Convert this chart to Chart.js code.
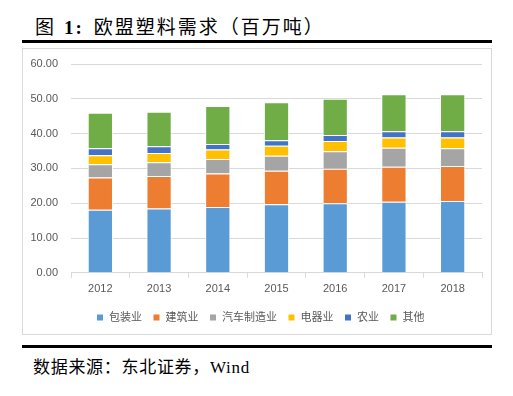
<!DOCTYPE html>
<html>
<head>
<meta charset="utf-8">
<script src="https://cdn.jsdelivr.net/npm/chart.js@4"></script>
<style>
    body { margin: 0; background: #fff; }
    #page { position: relative; width: 513px; height: 396px; background: #fff; overflow: hidden; }
    .cap { position: absolute; left: 35px; font-family: "Liberation Serif", "Noto Sans CJK SC", serif; color: #000; white-space: nowrap; }
    .rule { position: absolute; left: 22px; width: 470px; height: 3px; background: #000; }
    #box { position: absolute; left: 22px; top: 48px; width: 468px; height: 285px; border: 1px solid #d9d9d9; }
</style>
</head>
<body>
<div id="page">
    <div class="cap" style="top:12px; font-size:19px; letter-spacing:2px">图<b style="margin-left:8px">1:</b><span style="margin-left:10px">欧盟塑料需求（百万吨）</span></div>
    <div class="rule" style="top:40px"></div>
    <div id="box"><canvas id="demandChart" width="468" height="285"></canvas></div>
    <div class="rule" style="top:345px"></div>
    <div class="cap" style="top:353px; left:33px; font-size:17px; letter-spacing:0.7px">数据来源：东北证券，Wind</div>
</div>
<script>
// Data (million tonnes)
const years = ['2012', '2013', '2014', '2015', '2016', '2017', '2018'];
const packaging = [18.1, 18.5, 18.9, 19.7, 20.0, 20.4, 20.6];
const construction = [9.3, 9.3, 9.6, 9.6, 9.9, 10.1, 10.1];
const automotive = [3.8, 4.0, 4.2, 4.3, 5.0, 5.4, 5.1];
const electrical = [2.6, 2.6, 2.7, 2.9, 3.0, 3.0, 3.1];
const agriculture = [2.0, 2.0, 1.6, 1.6, 1.7, 1.8, 1.8];
const others = [10.2, 9.9, 10.9, 10.9, 10.4, 10.6, 10.6];
const yTicks = [0, 10, 20, 30, 40, 50, 60];

const seriesList = [
    { label: '包装业', data: packaging, color: '#5B9BD5' },
    { label: '建筑业', data: construction, color: '#ED7D31' },
    { label: '汽车制造业', data: automotive, color: '#A5A5A5' },
    { label: '电器业', data: electrical, color: '#FFC000' },
    { label: '农业', data: agriculture, color: '#4472C4' },
    { label: '其他', data: others, color: '#70AD47' }
];

const tickFont = { family: '"Liberation Sans", "Noto Sans CJK SC", sans-serif', size: 11 };

// nudge the legend a little to the right, the original is not centred on the canvas
const legendShift = {
    id: 'legendShift',
    afterLayout(chart) {
        chart.legend.left += 8;
        chart.legend.right += 8;
    }
};

document.addEventListener("DOMContentLoaded", function () {
    const ctx = document.getElementById('demandChart').getContext('2d');

    new Chart(ctx, {
        type: 'bar',
        data: {
            labels: years,
            datasets: seriesList.map(s => ({
                label: s.label,
                data: s.data,
                backgroundColor: s.color,
                borderColor: '#ffffff',
                borderWidth: 1,
                categoryPercentage: 1,
                barPercentage: 0.43
            }))
        },
        plugins: [legendShift],
        options: {
            responsive: false,
            animation: false,
            layout: { padding: { top: 15, right: 9, left: 0, bottom: 1 } },
            plugins: {
                legend: {
                    position: 'bottom',
                    labels: {
                        boxWidth: 7,
                        boxHeight: 7,
                        padding: 11,
                        color: '#595959',
                        font: tickFont
                    }
                },
                tooltip: { enabled: false }
            },
            scales: {
                x: {
                    stacked: true,
                    grid: { display: true, drawOnChartArea: false, drawTicks: true, tickLength: 5, color: '#d9d9d9', offset: true },
                    border: { display: true, color: '#d9d9d9' },
                    ticks: { color: '#595959', font: tickFont, padding: 5 }
                },
                y: {
                    stacked: true,
                    min: 0,
                    max: 60,
                    afterBuildTicks: scale => { scale.ticks = yTicks.map(v => ({ value: v })); },
                    afterFit: scale => { scale.width = 48; },
                    // invisible tick marks keep the labels away from the plot without extra top padding
                    grid: { color: '#d9d9d9', drawTicks: true, tickLength: 5, tickColor: 'rgba(0,0,0,0)' },
                    border: { display: false },
                    ticks: {
                        color: '#595959',
                        font: tickFont,
                        padding: 8,
                        callback: v => Number(v).toFixed(2)
                    }
                }
            }
        }
    });
});
</script>
</body>
</html>
